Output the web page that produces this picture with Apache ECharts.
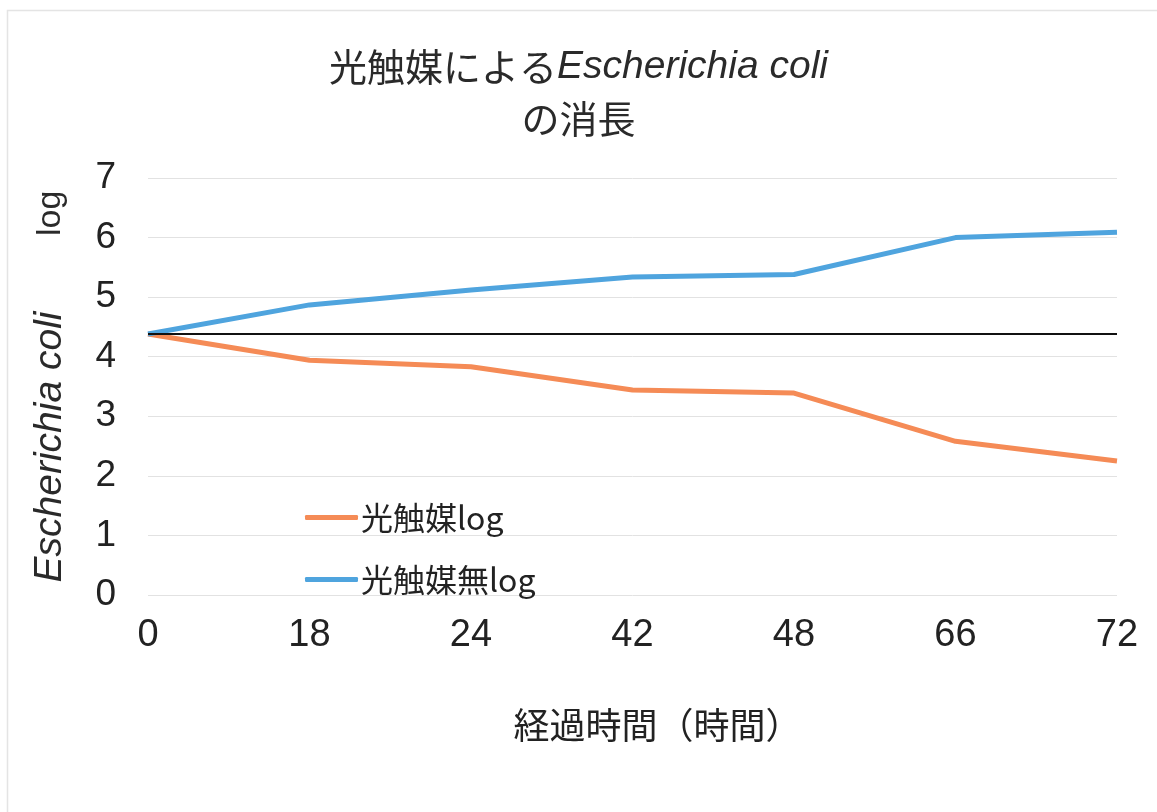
<!DOCTYPE html>
<html>
<head>
<meta charset="utf-8">
<script src="https://cdn.jsdelivr.net/npm/echarts@6/dist/echarts.min.js"></script>
<style>
  html, body { margin: 0; padding: 0; background: #fff; }
  #chart { width: 1157px; height: 812px; }
</style>
</head>
<body>
<div id="chart"></div>
<script>
// Elapsed time (hours) and log counts of E. coli
const hours = ['0', '18', '24', '42', '48', '66', '72'];
const withCatalyst = [4.38, 3.94, 3.83, 3.44, 3.39, 2.58, 2.25];
const withoutCatalyst = [4.38, 4.87, 5.12, 5.34, 5.38, 6.0, 6.09];
const initialLevel = [4.38, 4.38, 4.38, 4.38, 4.38, 4.38, 4.38];
const yTicks = { min: 0, max: 7, step: 1 };

const narrow = '"Liberation Sans Narrow", "Liberation Sans", Arial, sans-serif';
const cjk = '"Noto Sans CJK JP", "Noto Sans", sans-serif';
const latin = '"Liberation Sans", Arial, sans-serif';

const chart = echarts.init(document.getElementById('chart'));
chart.setOption({
  backgroundColor: '#fff',
  animation: false,
  graphic: [{
    type: 'rect',
    shape: { x: 7.5, y: 10.5, width: 1200, height: 1000 },
    style: { fill: 'none', stroke: '#e4e4e4', lineWidth: 1.5 },
    silent: true
  }],
  title: {
    left: 'center',
    top: 36,
    text: '{a|光触媒による}{b|Escherichia coli}\n{a|の消長}',
    textStyle: {
      fontWeight: 'normal',
      rich: {
        a: { fontFamily: cjk, fontWeight: 'normal', fontSize: 38, color: '#2a2a2a', lineHeight: 52 },
        b: { fontFamily: latin, fontWeight: 'normal', fontStyle: 'italic', fontSize: 39, color: '#2a2a2a', lineHeight: 52 }
      }
    }
  },
  legend: {
    data: ['光触媒log', '光触媒無log'],
    orient: 'vertical',
    left: 300,
    top: 495,
    itemWidth: 53,
    itemHeight: 5,
    itemGap: 27,
    icon: 'roundRect',
    textStyle: { fontFamily: cjk, fontSize: 32, color: '#222', lineHeight: 35, padding: [0, 0, 0, -2] }
  },
  grid: { left: 148, right: 40, top: 178, bottom: 217 },
  xAxis: {
    type: 'category',
    data: hours,
    boundaryGap: false,
    axisLine: { show: false },
    axisTick: { show: false },
    axisLabel: { fontFamily: narrow, fontSize: 38, color: '#222', margin: 22 },
    name: '経過時間（時間）',
    nameLocation: 'middle',
    nameGap: 112,
    nameTextStyle: { fontFamily: cjk, fontSize: 36, color: '#222', padding: [0, 0, 0, 50] }
  },
  yAxis: {
    type: 'value',
    min: yTicks.min,
    max: yTicks.max,
    interval: yTicks.step,
    axisLine: { show: false },
    axisTick: { show: false },
    axisLabel: { fontFamily: narrow, fontSize: 37, color: '#222', margin: 32 },
    splitLine: { lineStyle: { color: '#e2e2e2', width: 1 } },
    name: '{i|Escherichia coli}{s|        }{n|log}',
    nameLocation: 'middle',
    nameRotate: 90,
    nameGap: 78,
    nameTextStyle: {
      rich: {
        i: { fontFamily: latin, fontStyle: 'italic', fontSize: 39, color: '#2a2a2a' },
        s: { fontFamily: latin, fontSize: 34 },
        n: { fontFamily: latin, fontSize: 34, color: '#2a2a2a' }
      }
    }
  },
  series: [
    {
      name: '光触媒log',
      type: 'line',
      data: withCatalyst,
      symbol: 'none',
      itemStyle: { color: '#F58B56' },
      lineStyle: { color: '#F58B56', width: 5 },
      z: 3
    },
    {
      name: '光触媒無log',
      type: 'line',
      data: withoutCatalyst,
      symbol: 'none',
      itemStyle: { color: '#4FA4DE' },
      lineStyle: { color: '#4FA4DE', width: 5 },
      z: 3
    },
    {
      name: '初期値',
      type: 'line',
      data: initialLevel,
      symbol: 'none',
      itemStyle: { color: '#111' },
      lineStyle: { color: '#111', width: 2 },
      z: 4
    }
  ]
});
</script>
</body>
</html>
